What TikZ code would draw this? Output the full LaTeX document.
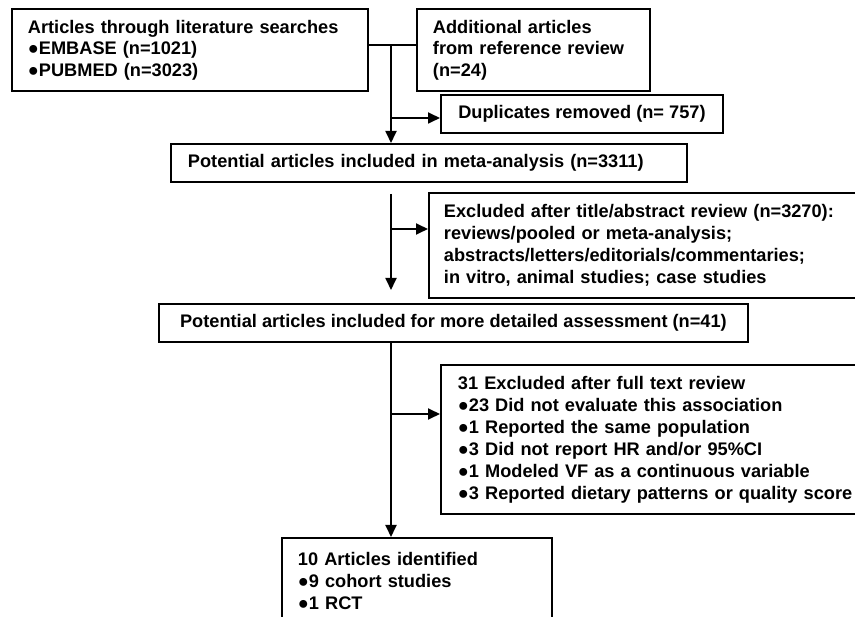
\documentclass[tikz,border=0pt]{standalone}
\usepackage{fontspec}
\setmainfont{Liberation Sans}
\usetikzlibrary{arrows.meta}
\begin{document}
\begin{tikzpicture}[x=1pt,y=-1pt,
  box/.style={draw, line width=1.9pt, anchor=north west, align=left, inner xsep=16pt, inner ysep=0pt,
    font=\bfseries\fontsize{18.2}{22}\selectfont},
  topbox/.style={box, font=\bfseries\fontsize{18.2}{21.4}\selectfont},
  cbox/.style={box, align=center},
  conn/.style={line width=1.8pt},
  arr/.style={conn, -{Triangle[length=12pt,width=11pt]}}]
\clip (0,0) rectangle (855,617);
\fill[white] (0,0) rectangle (855,617);
% boxes
\node[topbox, text width=324pt, minimum height=82pt] (A) at (11,8)
  {Articles through literature searches\\●EMBASE (n=1021)\\●PUBMED (n=3023)};
\node[topbox, text width=201pt, minimum height=82pt] (B) at (416,8)
  {Additional articles\\from reference review\\(n=24)};
\node[cbox, minimum width=282pt, minimum height=38pt] (D) at (440,94)
  {Duplicates removed (n= 757)};
\node[box, inner xsep=17pt, text width=482pt, minimum height=38pt] (C) at (170,143)
  {Potential articles included in meta-analysis (n=3311)};
\node[box, inner xsep=15pt, text width=442pt, minimum height=105pt] (E1) at (428,192)
  {Excluded after title/abstract review (n=3270):\\reviews/pooled or meta-analysis;\\abstracts/letters/editorials/commentaries;\\in vitro, animal studies; case studies};
\node[cbox, minimum width=589pt, minimum height=38pt] (F) at (158,303)
  {Potential articles included for more detailed assessment (n=41)};
\node[box, inner xsep=17pt, text width=426pt, minimum height=149pt] (E2) at (440,364)
  {31 Excluded after full text review\\●23 Did not evaluate this association\\●1 Reported the same population\\●3 Did not report HR and/or 95\%CI\\●1 Modeled VF as a continuous variable\\●3 Reported dietary patterns or quality score};
\node[box, text width=238pt, minimum height=86pt] (G) at (281,537)
  {10 Articles identified\\●9 cohort studies\\●1 RCT};
% junctions
\coordinate (j1) at (391,45);
\coordinate (b1) at (391,118);
\coordinate (b2) at (391,229);
\coordinate (b3) at (391,414);
% connectors
\draw[conn] (A.east |- j1) -- (B.west |- j1);
\draw[arr] (j1) -- (j1 |- C.north);
\draw[arr] (b1) -- (b1 -| D.west);
\draw[arr, shorten <=11pt, shorten >=13pt] (j1 |- C.south) -- (j1 |- F.north);
\draw[arr] (b2) -- (b2 -| E1.west);
\draw[arr] (j1 |- F.south) -- (j1 |- G.north);
\draw[arr] (b3) -- (b3 -| E2.west);
\end{tikzpicture}
\end{document}
